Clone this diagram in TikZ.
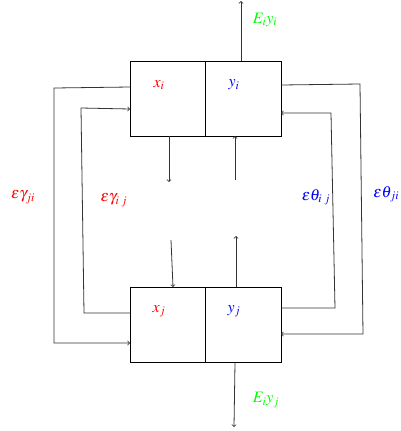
\documentclass[tikz,border=0pt]{standalone}
\usepackage{mathptmx}
\begin{document}
\begin{tikzpicture}[x=1bp,y=-1bp,line width=0.8pt,
  box/.style={draw,minimum width=75bp,minimum height=75bp,inner sep=0pt,line width=0.8pt},
  lbl/.style={font=\fontsize{16}{19}\selectfont,inner sep=0pt},
  conn/.style={->,line width=0.8pt,draw=black!80}]
\useasboundingbox (0,0) rectangle (401,431);
% boxes
\node[box,minimum width=75bp] (xi) at (167.5,98.5) {};
\node[box,minimum width=76bp] (yi) at (243,98.5) {};
\node[box,minimum width=75bp] (xj) at (167.5,325) {};
\node[box,minimum width=76bp] (yj) at (243,325) {};
% labels in boxes
\node[lbl,text=red] (lxi) at (159,85) {$x_i$};
\node[lbl,text=blue] (lyi) at (234,85) {$y_i$};
\node[lbl,text=red] (lxj) at (159,311) {$x_j$};
\node[lbl,text=blue] (lyj) at (234,311) {$y_j$};
% outputs
\coordinate (topend) at (241,1);
\coordinate (botend) at (234,427);
\draw[conn] (yi.north -| topend) -- (topend);
\draw[conn] (235,363) -- (botend);
\node[lbl,text=green] (eyi) at (265,20) {$E_iy_i$};
\node[lbl,text=green] (eyj) at (266,400) {$E_iy_j$};
% feedback loops
\coordinate (a1) at (130,87);
\coordinate (b1) at (130,343);
\coordinate (a2) at (130,313);
\coordinate (b2) at (130,109);
\coordinate (c1) at (281,85);
\coordinate (d1) at (281,334);
\coordinate (c2) at (281,308);
\coordinate (d2) at (281,113);
\draw[conn] (a1) -- (54,88) -- (54,343) -- (b1);
\draw[conn] (a2) -- (84,313) -- (81,108) -- (b2);
\draw[conn] (c1) -- (360,84) -- (363,334) -- (d1);
\draw[conn] (c2) -- (335,308) -- (331,113) -- (d2);
% middle arrows
\coordinate (m1) at (169,182);
\coordinate (m2) at (171,240);
\coordinate (m3) at (235,180);
\coordinate (m4) at (236,236);
\draw[conn] (169,136) -- (m1);
\draw[conn] (m2) -- (173,287);
\draw[conn] (m3) -- (235,136);
\draw[conn] (236,287) -- (m4);
% loop labels
\node[lbl,text=red] (g1) at (23,197) {$\varepsilon\gamma_{ji}$};
\node[lbl,text=red] (g2) at (114,200) {$\varepsilon\gamma_{i\;j}$};
\node[lbl,text=blue] (t1) at (316,197) {$\varepsilon\theta_{i\;j}$};
\node[lbl,text=blue,anchor=west] (t2) at (373,194) {$\varepsilon\theta_{ji}$};
\end{tikzpicture}
\end{document}
